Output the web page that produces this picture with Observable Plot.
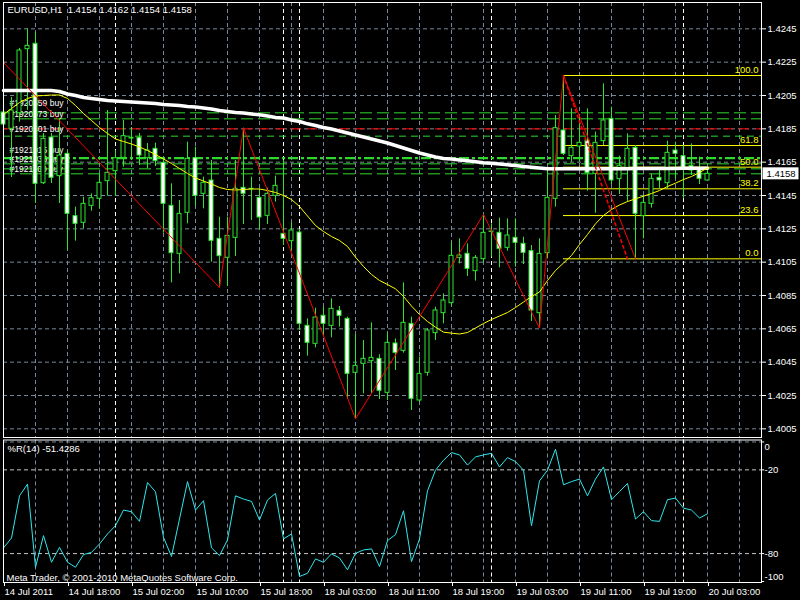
<!DOCTYPE html>
<html><head><meta charset="utf-8">
<script src="https://cdn.jsdelivr.net/npm/d3@7"></script>
<script src="https://cdn.jsdelivr.net/npm/@observablehq/plot@0.6"></script>
<style>
body{margin:0;background:#000;}
#wrap{position:relative;width:800px;height:600px;background:#000;overflow:hidden;}
#main{position:absolute;left:0;top:0;}
#ind{position:absolute;left:0;top:438px;}
</style></head><body>
<div id="wrap"><div id="main"></div><div id="ind"></div></div>
<script>
// ---- data (bar index 0 = 14 Jul 2011 10:00, H1 bars) ----
const opens = [1.41948,1.41850,1.41944,1.42328,1.42360,1.41524,1.41798,1.41566,1.41700,1.41326,
1.41286,1.41388,1.41430,1.41536,1.41596,1.41676,1.41796,1.41796,1.41674,1.41730,
1.41646,1.41388,1.41100,1.41346,1.41674,1.41460,1.41540,1.41190,1.41076,1.41196,
1.41496,1.41490,1.41436,1.41328,1.41448,1.41220,1.41176,1.41228,1.40668,1.40560,
1.40728,1.40668,1.40758,1.40710,1.40386,1.40440,1.40456,1.40470,1.40266,1.40562,
1.40518,1.40680,1.40220,1.40386,1.40624,1.40744,1.40804,1.41076,1.41100,1.40996,
1.41068,1.41234,1.41226,1.41136,1.41196,1.41160,1.41116,1.40744,1.41104,1.41430,
1.41840,1.41686,1.41744,1.41780,1.41580,1.41776,1.41910,1.41548,1.41616,1.41736,
1.41326,1.41400,1.41556,1.41524,1.41720,1.41686,1.41626,1.41610,1.41540];
const highs = [1.42002,1.42038,1.42332,1.42450,1.42428,1.41822,1.41822,1.41912,1.41720,1.41380,
1.41440,1.41460,1.41580,1.41960,1.41720,1.41900,1.41858,1.41822,1.41762,1.41764,
1.41680,1.41520,1.41420,1.41770,1.41740,1.41560,1.41660,1.41320,1.41320,1.41660,
1.41854,1.41560,1.41490,1.41494,1.41566,1.41660,1.41290,1.41246,1.40710,1.40774,
1.40780,1.40830,1.40784,1.40720,1.40616,1.40580,1.40686,1.40494,1.40626,1.40590,
1.40926,1.40720,1.40480,1.40652,1.40780,1.40860,1.41170,1.41190,1.41160,1.41090,
1.41336,1.41280,1.41314,1.41310,1.41310,1.41200,1.41150,1.41190,1.41610,1.41930,
1.42170,1.41970,1.41920,1.41970,1.41830,1.42120,1.41980,1.41686,1.41820,1.41750,
1.41450,1.41580,1.41600,1.41776,1.41770,1.41750,1.41760,1.41680,1.41620];
const lows = [1.41780,1.41558,1.41890,1.41960,1.41402,1.41516,1.41522,1.41402,1.41120,1.41176,
1.41250,1.41356,1.41370,1.41446,1.41444,1.41620,1.41660,1.41630,1.41612,1.41624,
1.41224,1.40926,1.40980,1.41280,1.41384,1.41370,1.41050,1.40898,1.40904,1.41084,
1.41276,1.41300,1.41246,1.41276,1.41410,1.41150,1.41120,1.40640,1.40486,1.40536,
1.40600,1.40596,1.40660,1.40230,1.40110,1.40260,1.40260,1.40226,1.40220,1.40400,
1.40504,1.40160,1.40208,1.40366,1.40580,1.40680,1.40784,1.41040,1.40964,1.40936,
1.41044,1.41080,1.41016,1.41116,1.41020,1.41036,1.40694,1.40654,1.41070,1.41380,
1.41690,1.41650,1.41650,1.41476,1.41344,1.41750,1.41516,1.41456,1.41410,1.41070,
1.41190,1.41374,1.41490,1.41490,1.41550,1.41430,1.41570,1.41516,1.41540];
const closes = [1.41876,1.41960,1.42320,1.42348,1.41520,1.41790,1.41556,1.41690,1.41340,1.41280,
1.41400,1.41434,1.41526,1.41586,1.41674,1.41806,1.41792,1.41690,1.41720,1.41656,
1.41400,1.41104,1.41340,1.41670,1.41448,1.41526,1.41178,1.41086,1.41208,1.41490,
1.41460,1.41488,1.41318,1.41460,1.41508,1.41190,1.41240,1.40680,1.40566,1.40718,
1.40680,1.40770,1.40728,1.40380,1.40428,1.40470,1.40476,1.40278,1.40566,1.40506,
1.40686,1.40230,1.40380,1.40640,1.40760,1.40820,1.41088,1.41090,1.41010,1.41076,
1.41226,1.41232,1.41130,1.41210,1.41166,1.41106,1.40760,1.41100,1.41436,1.41854,
1.41700,1.41736,1.41766,1.41584,1.41766,1.41900,1.41540,1.41626,1.41730,1.41340,
1.41406,1.41550,1.41540,1.41706,1.41700,1.41616,1.41600,1.41550,1.41580];
const maSlow = [1.42080,1.42080,1.42080,1.42080,1.42080,1.42080,1.42080,1.42074,1.42059,1.42050,
1.42038,1.42032,1.42026,1.42020,1.42017,1.42014,1.42011,1.42008,1.42005,1.42002,
1.41996,1.41993,1.41990,1.41984,1.41981,1.41975,1.41969,1.41960,1.41954,1.41948,
1.41945,1.41939,1.41934,1.41927,1.41918,1.41915,1.41903,1.41894,1.41880,1.41870,
1.41858,1.41849,1.41837,1.41825,1.41813,1.41801,1.41789,1.41777,1.41765,1.41750,
1.41735,1.41720,1.41705,1.41693,1.41681,1.41672,1.41669,1.41663,1.41658,1.41652,
1.41646,1.41644,1.41639,1.41634,1.41630,1.41624,1.41620,1.41615,1.41610,1.41610,
1.41610,1.41610,1.41610,1.41610,1.41610,1.41611,1.41611,1.41611,1.41611,1.41612,
1.41612,1.41612,1.41612,1.41612,1.41612,1.41613,1.41613,1.41613,1.41613];
const maFast = [1.41936,1.41972,1.42008,1.42032,1.42047,1.42050,1.42053,1.42053,1.42032,1.41990,
1.41942,1.41900,1.41858,1.41822,1.41789,1.41774,1.41759,1.41741,1.41720,1.41696,
1.41669,1.41642,1.41612,1.41582,1.41555,1.41537,1.41519,1.41498,1.41486,1.41483,
1.41486,1.41489,1.41489,1.41480,1.41468,1.41450,1.41426,1.41384,1.41327,1.41270,
1.41234,1.41204,1.41180,1.41144,1.41080,1.41024,1.40976,1.40940,1.40916,1.40890,
1.40844,1.40787,1.40736,1.40694,1.40660,1.40630,1.40624,1.40619,1.40628,1.40655,
1.40682,1.40706,1.40727,1.40748,1.40778,1.40811,1.40844,1.40871,1.40940,1.41000,
1.41045,1.41090,1.41156,1.41216,1.41280,1.41330,1.41366,1.41393,1.41414,1.41430,
1.41446,1.41462,1.41480,1.41504,1.41524,1.41546,1.41564,1.41588,1.41615];
const wpr = [-75.9,-68.8,-38.6,-30.2,-89.8,-67.1,-86.2,-75.5,-86.2,-89.8,
-80.7,-79.1,-73.1,-65.9,-60.0,-48.8,-50.0,-56.9,-29.1,-35.7,
-68.4,-82.1,-55.2,-28.4,-48.8,-42.1,-75.9,-81.4,-70.2,-38.6,
-40.9,-42.6,-55.9,-41.6,-36.9,-69.5,-65.9,-96.4,-94.1,-83.8,
-86.2,-80.2,-83.1,-91.6,-79.8,-77.4,-76.6,-89.3,-70.7,-66.4,
-49.3,-85.7,-69.5,-35.0,-20.2,-13.1,-7.6,-9.3,-16.6,-10.7,
-9.3,-8.1,-17.9,-11.2,-14.1,-20.2,-60.0,-27.9,-20.2,-5.2,
-30.7,-28.4,-26.6,-38.6,-26.6,-17.9,-41.4,-35.5,-29.8,-55.2,
-50.0,-56.4,-56.9,-41.4,-40.2,-47.4,-48.8,-54.5,-51.4286];
const zigzagIdx = [0, 27, 30, 44, 60, 67, 70, 79];
const zigzagPrice = [1.42248, 1.40898, 1.41854, 1.40110, 1.41336, 1.40654, 1.42170, 1.41070];
const fibStartIdx = 70, fibEndIdx = 78;
const fibHigh = 1.42170, fibLow = 1.41070;
const fibLevels = [0, 23.6, 38.2, 50, 61.8, 100];
const fibLabels = ["0.0", "23.6", "38.2", "50.0", "61.8", "100.0"];
const orderPrices = [1.41946, 1.41910, 1.41850, 1.41806, 1.41674, 1.41640, 1.41610, 1.41580];
const orderLabels = ["#1920659 buy","#1920573 buy","","#1920401 buy","#1921015 buy","#1921035 buy","","#1921100 buy"];
const priceTicks = [1.4005,1.4025,1.4045,1.4065,1.4085,1.4105,1.4125,1.4145,1.4165,1.4185,1.4205,1.4225,1.4245];
const gridIdx = [4,8,12,16,20,24,28,32,36,40,44,48,52,56,60,64,68,72,76,80,84,88,92];
const daySeparators = [14, 35, 37, 61, 85];
const timeTickIdx = [0,8,16,24,32,40,48,56,64,72,80,88];
const timeTickLabels = ["14 Jul 2011","14 Jul 18:00","15 Jul 02:00","15 Jul 10:00","15 Jul 18:00","18 Jul 03:00","18 Jul 11:00","18 Jul 19:00","19 Jul 03:00","19 Jul 11:00","19 Jul 19:00","20 Jul 03:00"];
const wprLevels = [-20, -80];
const wprEnds = [0, -100];
const headerText = "EURUSD,H1  1.4154 1.4162 1.4154 1.4158";
const wprTitle = "%R(14) -51.4286";
const copyright = "Meta Trader, \u00a9 2001-2010 MetaQuotes Software Corp.";

// ---- styling ----
const FONT = "'Liberation Sans', Arial, sans-serif";
const GREEN = "#2ee62e";
const GRID = "#778899";
const XMAX = 94.75;
const orderColors = ["#2ed82e","#2ed82e","#ff0000","#2ed82e","#2ed82e","#2ed82e","#2ed82e","#2ed82e"];
const orderDash = ["12,5","12,5","10,6","7,5","10,3,3,3","12,5","12,5","12,5"];
const orderWidth = [1,1,1,1,2.2,1,1,1];
const orderLabelDy = [-9.3,-4.8,0,-6.7,-8.2,-4.3,0,-4.8];

// ---- build ----
const bars = opens.map((o, i) => {
  const top = Math.max(o, closes[i]), bot = Math.min(o, closes[i]);
  return {i, o, h: highs[i], l: lows[i], c: closes[i], bull: closes[i] >= o,
          b1: bot, b2: Math.max(top, bot + 0.00002)};
});
const zz = zigzagIdx.map((i, k) => ({i, p: zigzagPrice[k]}));
const fib = fibLevels.map((lv, k) => ({p: fibLow + (fibHigh - fibLow) * lv / 100, label: fibLabels[k]}));
const orders = orderPrices.map((p, k) => ({p, color: orderColors[k], dash: orderDash[k], w: orderWidth[k], label: orderLabels[k], dy: orderLabelDy[k]}));
const lastClose = closes[closes.length - 1];
const labelMap = new Map(timeTickIdx.map((d, k) => [d, timeTickLabels[k]]));

const main = Plot.plot({
  width: 800, height: 438,
  marginLeft: 3, marginRight: 39, marginTop: 2, marginBottom: 1,
  style: {background: "#000", color: "#fff", fontFamily: FONT, fontSize: "9px", overflow: "visible"},
  x: {domain: [0, XMAX], axis: null},
  y: {domain: [1.39998, 1.42608], axis: null},
  marks: [
    Plot.ruleY(priceTicks, {stroke: GRID, strokeDasharray: "4,3"}),
    Plot.ruleX(gridIdx, {stroke: GRID, strokeDasharray: "4,3"}),
    Plot.ruleX(daySeparators, {stroke: "#fff", strokeDasharray: "4,3"}),
    ...orders.map(o => Plot.ruleY([o], {y: "p", stroke: o.color, strokeDasharray: o.dash, strokeWidth: o.w})),
    ...orders.filter(o => o.label).map(o => Plot.text([o], {x: 0, y: "p", text: "label", dx: 6, dy: o.dy, textAnchor: "start", fill: "#fff", fontSize: 8.5})),
    Plot.ruleY(fib, {y: "p", x1: fibStartIdx, x2: XMAX, stroke: "#ffff00"}),
    Plot.text(fib, {x: XMAX, y: "p", text: "label", dx: -3, dy: -5.5, textAnchor: "end", fill: "#ffff00", fontSize: 9.5}),
    Plot.ruleX(bars, {x: "i", y1: "l", y2: "h", stroke: GREEN}),
    Plot.rect(bars.filter(d => d.bull), {x1: d => d.i - 0.25, x2: d => d.i + 0.25, y1: "b1", y2: "b2", fill: "#000", stroke: GREEN}),
    Plot.rect(bars.filter(d => !d.bull), {x1: d => d.i - 0.25, x2: d => d.i + 0.25, y1: "b1", y2: "b2", fill: "#fff", stroke: GREEN}),
    Plot.line(maSlow, {x: (d, i) => i, y: d => d, stroke: "#fff", strokeWidth: 3.5}),
    Plot.line(maFast, {x: (d, i) => i, y: d => d, stroke: "#ffff00", strokeWidth: 1}),
    Plot.line(zz, {x: "i", y: "p", stroke: "#ff0000", strokeWidth: 1}),
    Plot.line([{i: fibStartIdx, p: fibHigh}, {i: fibEndIdx, p: fibLow}], {x: "i", y: "p", stroke: "#ff0000", strokeDasharray: "3,3"}),
    Plot.axisY({anchor: "right", ticks: priceTicks, tickFormat: d => d.toFixed(4), tickSize: 4, tickPadding: 2, fontSize: 9.5}),
    Plot.frame({stroke: "#fff"}),
    Plot.text([headerText], {frameAnchor: "top-left", dx: 4, dy: 3.5, fill: "#fff", fontSize: 9.5}),
    (index, scales, values, dims) => {
      const y = scales.y(lastClose);
      const x0 = dims.width - dims.marginRight + 1.5;
      const g = d3.create("svg:g");
      g.append("rect").attr("x", x0).attr("y", y - 6).attr("width", 36).attr("height", 12).attr("fill", "#fff");
      g.append("text").attr("x", x0 + 4).attr("y", y).attr("dy", "0.35em").attr("fill", "#000")
        .attr("text-anchor", "start").attr("font-size", 9.5).attr("font-family", FONT).text(lastClose.toFixed(4));
      return g.node();
    }
  ]
});
document.getElementById("main").appendChild(main);

const ind = Plot.plot({
  width: 800, height: 162,
  marginLeft: 3, marginRight: 39, marginTop: 1.5, marginBottom: 18,
  style: {background: "#000", color: "#fff", fontFamily: FONT, fontSize: "9px", overflow: "visible"},
  x: {domain: [0, XMAX], axis: null},
  y: {domain: [-100.7, 1.4], axis: null},
  marks: [
    Plot.ruleY([0], {stroke: GRID, strokeDasharray: "4,3"}),
    Plot.ruleY(wprLevels, {stroke: "#c8c8c8", strokeDasharray: "4,3"}),
    Plot.ruleX(gridIdx, {stroke: GRID, strokeDasharray: "4,3"}),
    Plot.ruleX(daySeparators, {stroke: "#fff", strokeDasharray: "4,3"}),
    Plot.line(wpr, {x: (d, i) => i, y: d => d, stroke: "#2de8ee", strokeWidth: 1}),
    Plot.ruleY(wprLevels.concat(wprEnds), {x1: XMAX, x2: XMAX + 0.4, stroke: "#fff"}),
    Plot.text(wprLevels, {x: XMAX, y: d => d, text: d => String(d), dx: 3, textAnchor: "start", fill: "#fff", fontSize: 9.5}),
    Plot.text([wprEnds[0]], {x: XMAX, y: d => d, text: d => String(d), dx: 3, dy: 5, textAnchor: "start", fill: "#fff", fontSize: 9.5}),
    Plot.text([wprEnds[1]], {x: XMAX, y: d => d, text: d => String(d), dx: 3, dy: -5, textAnchor: "start", fill: "#fff", fontSize: 9.5}),
    Plot.axisX({anchor: "bottom", ticks: timeTickIdx, tickFormat: d => labelMap.get(d), tickSize: 4, tickPadding: 2, textAnchor: "start", dx: 1, fontSize: 9.5}),
    Plot.frame({stroke: "#fff"}),
    Plot.text([wprTitle], {frameAnchor: "top-left", dx: 4, dy: 5, fill: "#fff", fontSize: 9.5}),
    Plot.text([copyright], {frameAnchor: "bottom-left", dx: 3, dy: -2, fill: "#fff", fontSize: 9.5})
  ]
});
document.getElementById("ind").appendChild(ind);
</script>
</body></html>
